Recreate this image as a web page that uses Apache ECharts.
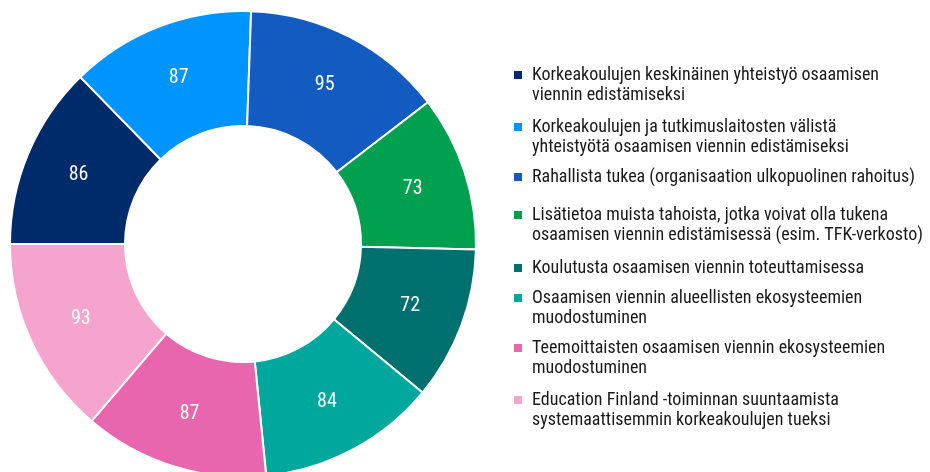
<!DOCTYPE html>
<html>
<head>
<meta charset="utf-8">
<script src="https://cdn.jsdelivr.net/npm/echarts@6/dist/echarts.min.js"></script>
<style>
html,body{margin:0;padding:0;background:#fff;}
#chart{width:930px;height:472px;}
</style>
</head>
<body>
<div id="chart"></div>
<script>
const categories = [
  "Korkeakoulujen keskinäinen yhteistyö osaamisen\nviennin edistämiseksi",
  "Korkeakoulujen ja tutkimuslaitosten välistä\nyhteistyötä osaamisen viennin edistämiseksi",
  "Rahallista tukea (organisaation ulkopuolinen rahoitus)",
  "Lisätietoa muista tahoista, jotka voivat olla tukena\nosaamisen viennin edistämisessä (esim. TFK-verkosto)",
  "Koulutusta osaamisen viennin toteuttamisessa",
  "Osaamisen viennin alueellisten ekosysteemien\nmuodostuminen",
  "Teemoittaisten osaamisen viennin ekosysteemien\nmuodostuminen",
  "Education Finland -toiminnan suuntaamista\nsystemaattisemmin korkeakoulujen tueksi"
];
const values = [86, 87, 95, 73, 72, 84, 87, 93];

const palette = ["#002B6B", "#0094FF", "#135BC0", "#00A04F", "#00706E", "#00A79D", "#E866AD", "#F4A4CD"];
const legendTops = [75, 127, 177, 215, 268, 298, 348, 400];

// pick the narrowest installed condensed face
const candidates = ['Liberation Sans Narrow', 'Noto Sans ExtraCondensed', 'Noto Sans Condensed', 'Roboto Condensed', 'Open Sans Condensed', 'DejaVu Sans Condensed'];
const ctx = document.createElement('canvas').getContext('2d');
function w(f, s){ ctx.font = f; return ctx.measureText(s).width; }
const probe1 = 'Korkeakoulujen keskinäinen yhteistyö osaamisen';
const probe2 = 'osaamisen viennin edistämisessä (esim. TFK-verkosto)';
let chosen = 'DejaVu Sans Condensed';
for (const c of candidates) {
  const a = w("18px '" + c + "', monospace", probe1), b = w('18px monospace', probe1);
  const a2 = w("18px '" + c + "', serif", probe1), b2 = w('18px serif', probe1);
  if (Math.abs(a - b) > 0.5 && Math.abs(a2 - b2) > 0.5) { chosen = c; break; }
}
const FONT = "'" + chosen + "', 'DejaVu Sans Condensed', sans-serif";
const scale = Math.min(357 / w("18px " + FONT, probe1), 392 / w("18px " + FONT, probe2));
const legendSize = Math.min(19, Math.max(15, Math.floor(18 * scale * 2) / 2));

const chart = echarts.init(document.getElementById('chart'), null, {renderer: 'canvas'});

const legends = categories.map((name, i) => {
  const twoLine = name.indexOf('\n') >= 0;
  return {
    orient: 'vertical',
    left: 512,
    top: legendTops[i] - (twoLine ? 30 : 10),
    padding: 0,
    itemWidth: 10,
    itemHeight: 10,
    icon: 'rect',
    selectedMode: false,
    data: [name],
    formatter: function (n) { return n.indexOf('\n') >= 0 ? ' \n' + n : n; },
    textStyle: {
      fontFamily: FONT,
      fontSize: legendSize,
      lineHeight: 20,
      color: '#1a1a1a',
      padding: [0, 0, 0, 4]
    }
  };
});

chart.setOption({
  animation: false,
  color: palette,
  legend: legends,
  series: [{
    type: 'pie',
    center: [243, 244],
    radius: [118, 233],
    startAngle: 180,
    clockwise: true,
    avoidLabelOverlap: false,
    itemStyle: {borderColor: '#ffffff', borderWidth: 2},
    label: {
      show: true,
      position: 'inside',
      color: '#ffffff',
      fontFamily: FONT,
      fontSize: 20,
      formatter: '{c}'
    },
    labelLine: {show: false},
    emphasis: {disabled: true},
    data: categories.map((n, i) => ({name: n, value: values[i]}))
  }]
});
</script>
</body>
</html>
